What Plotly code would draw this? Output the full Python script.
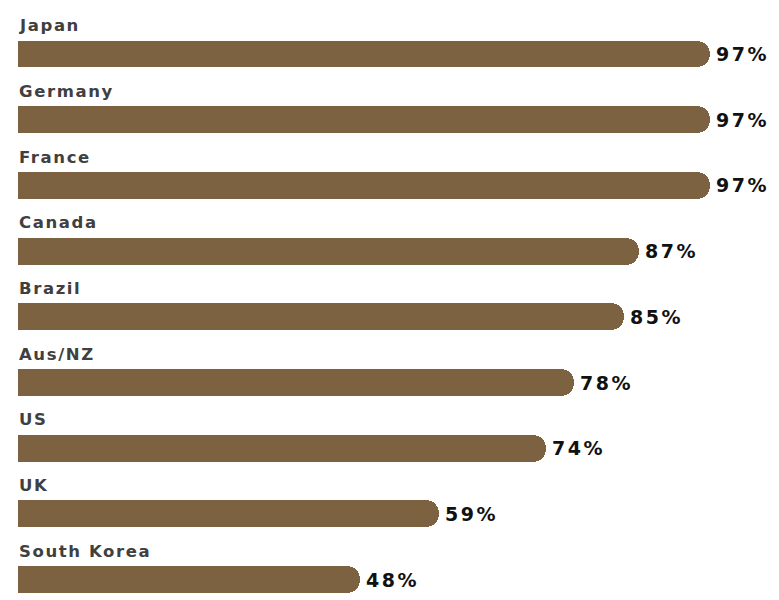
import plotly.graph_objects as go

countries = ["Japan", "Germany", "France", "Canada", "Brazil", "Aus/NZ", "US", "UK", "South Korea"]
values = [97, 97, 97, 87, 85, 78, 74, 59, 48]
value_labels = [f"{v}%" for v in values]

positions = list(range(len(countries)))
bar_color = "#7D6241"

fig = go.Figure()
fig.add_trace(go.Bar(
    x=values,
    y=positions,
    orientation="h",
    width=0.41,
    marker=dict(color=bar_color, cornerradius="50%", line=dict(width=0)),
    hoverinfo="skip",
))

annotations = []
for i, (c, lab) in enumerate(zip(countries, value_labels)):
    annotations.append(dict(
        x=0, y=i - 0.43, xref="x", yref="y",
        text=f'<span style="letter-spacing:1.6px">{c}</span>',
        showarrow=False, xanchor="left", yanchor="middle",
        font=dict(family="DejaVu Sans", size=16.5, color="#404040", weight="bold"),
        xshift=-1,
    ))
    annotations.append(dict(
        x=values[i], y=i, xref="x", yref="y",
        text=f'<span style="letter-spacing:2.5px">{lab}</span>',
        showarrow=False, xanchor="left", yanchor="middle",
        font=dict(family="DejaVu Sans", size=19, color="#111111", weight="bold"),
        xshift=4,
    ))

fig.update_layout(
    width=779, height=600,
    margin=dict(l=18, r=0, t=0, b=0),
    paper_bgcolor="white", plot_bgcolor="white",
    showlegend=False,
    xaxis=dict(range=[0, 106.7], visible=False, fixedrange=True),
    yaxis=dict(range=[8.31, -0.822], visible=False, fixedrange=True),
    annotations=annotations,
    bargap=0,
)

fig.write_html("out.html")
